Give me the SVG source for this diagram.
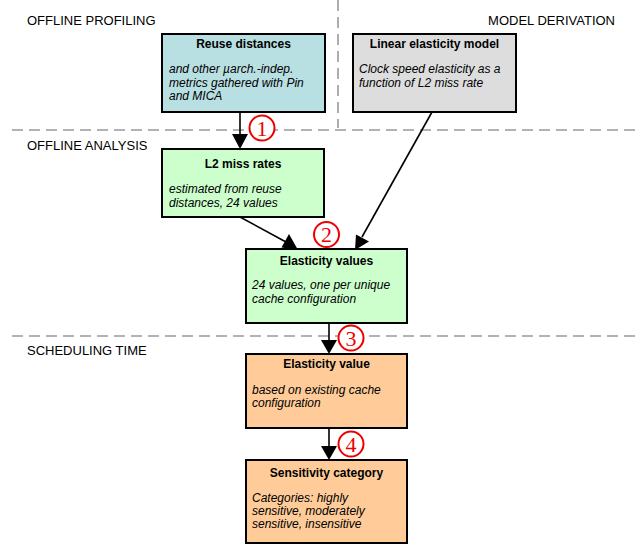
<svg xmlns="http://www.w3.org/2000/svg" width="644" height="545" viewBox="0 0 644 545">
<defs>
<style>
.sec{font-family:"Liberation Sans",Arial,sans-serif;font-size:13px;fill:#000}
.t{font-family:"Liberation Sans",Arial,sans-serif;font-size:12px;font-weight:bold;text-anchor:middle;fill:#000}
.b{font-family:"Liberation Sans",Arial,sans-serif;font-size:12px;font-style:italic;fill:#000}
.box{stroke:#000;stroke-width:2}
.dash{stroke:#999;stroke-width:1.6;stroke-dasharray:11,6;fill:none}
.ln{stroke:#000;stroke-width:1.6;fill:none}
.num circle{fill:#fff;stroke:#e00;stroke-width:2}
.num text{font-family:"Liberation Serif","Times New Roman",serif;font-size:22px;fill:#e00;text-anchor:middle}
</style>
</defs>
<rect width="644" height="545" fill="#fff"/>
<g id="separators">
<line class="dash" x1="338" y1="0" x2="338" y2="128"/>
<line class="dash" x1="12" y1="130" x2="640" y2="130"/>
<line class="dash" x1="12" y1="336" x2="640" y2="336"/>
</g>
<g id="labels">
<text class="sec" x="27" y="25">OFFLINE PROFILING</text>
<text class="sec" x="615" y="25" text-anchor="end">MODEL DERIVATION</text>
<text class="sec" x="27" y="150">OFFLINE ANALYSIS</text>
<text class="sec" x="27" y="355">SCHEDULING TIME</text>
</g>
<g id="connectors">
<line class="ln" x1="240" y1="112" x2="240" y2="136"/>
<path d="M232,134 L248,134 L240,149 z" fill="#000"/>
<line class="ln" x1="240" y1="217" x2="286" y2="242"/>
<path d="M281.5,247.5 L289,234 L298,250 z" fill="#000"/>
<line class="ln" x1="432" y1="112" x2="362" y2="237"/>
<path d="M356,234.5 L369,241.5 L355,250 z" fill="#000"/>
<line class="ln" x1="329" y1="323" x2="329" y2="342"/>
<path d="M321,340 L337,340 L329,354 z" fill="#000"/>
<line class="ln" x1="329" y1="428" x2="329" y2="448"/>
<path d="M321,446 L337,446 L329,460 z" fill="#000"/>
</g>
<g id="n1">
<rect class="box" x="162" y="34" width="163" height="78" fill="#B8DFE2"/>
<text class="t" x="243.5" y="48">Reuse distances</text>
<text class="b" x="169" y="73">and other µarch.-indep.</text>
<text class="b" x="169" y="87">metrics gathered with Pin</text>
<text class="b" x="169" y="100">and MICA</text>
</g>
<g id="n2">
<rect class="box" x="353" y="34" width="163" height="78" fill="#DDDDDD"/>
<text class="t" x="434.5" y="48">Linear elasticity model</text>
<text class="b" x="359" y="73">Clock speed elasticity as a</text>
<text class="b" x="359" y="87">function of L2 miss rate</text>
</g>
<g id="n3">
<rect class="box" x="162" y="149" width="162" height="68" fill="#CCFFCC"/>
<text class="t" x="243" y="168">L2 miss rates</text>
<text class="b" x="169" y="193">estimated from reuse</text>
<text class="b" x="169" y="207">distances, 24 values</text>
</g>
<g id="n4">
<rect class="box" x="246" y="249" width="161" height="74" fill="#CCFFCC"/>
<text class="t" x="326.5" y="265">Elasticity values</text>
<text class="b" x="252" y="289">24 values, one per unique</text>
<text class="b" x="252" y="303">cache configuration</text>
</g>
<g id="n5">
<rect class="box" x="246" y="354" width="161" height="74" fill="#FFCC99"/>
<text class="t" x="326.5" y="368">Elasticity value</text>
<text class="b" x="252" y="394">based on existing cache</text>
<text class="b" x="252" y="407">configuration</text>
</g>
<g id="n6">
<rect class="box" x="246" y="460" width="161" height="83" fill="#FFCC99"/>
<text class="t" x="326.5" y="477">Sensitivity category</text>
<text class="b" x="252" y="502">Categories: highly</text>
<text class="b" x="252" y="515">sensitive, moderately</text>
<text class="b" x="252" y="528">sensitive, insensitive</text>
</g>
<g id="step-numbers">
<g class="num"><circle cx="262" cy="128" r="12.5"/><text x="262" y="135.5">1</text></g>
<g class="num"><circle cx="326.5" cy="234.5" r="12.5"/><text x="326.5" y="242">2</text></g>
<g class="num"><circle cx="351" cy="338" r="12.5"/><text x="351" y="345.5">3</text></g>
<g class="num"><circle cx="351" cy="444" r="12.5"/><text x="351" y="451.5">4</text></g>
</g>
</svg>
